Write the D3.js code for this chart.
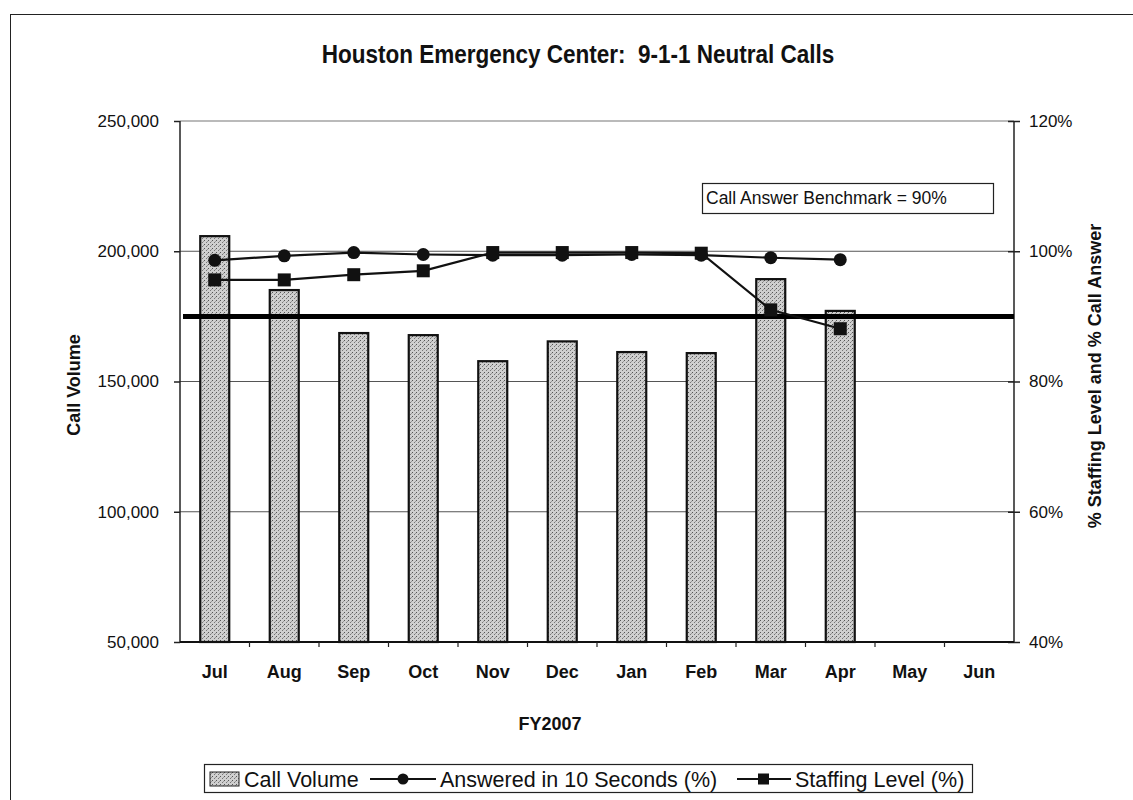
<!DOCTYPE html>
<html><head><meta charset="utf-8">
<script src="https://cdn.jsdelivr.net/npm/d3@7"></script>
<style>body{margin:0;background:#fff}svg{display:block;font-family:"Liberation Sans",Arial,sans-serif}</style>
</head><body>
<svg id="c" width="1133" height="800"></svg>
<script>
const months = ["Jul","Aug","Sep","Oct","Nov","Dec","Jan","Feb","Mar","Apr","May","Jun"];
const callVolume = [205800,185100,168600,167800,157800,165400,161300,160900,189300,177100];
const answered = [98.6,99.3,99.8,99.5,99.4,99.4,99.5,99.4,99.0,98.7];
const staffing = [95.6,95.6,96.4,97.0,99.8,99.8,99.8,99.7,91.0,88.1];
const benchmark = 90;
const leftTicks = [50000,100000,150000,200000,250000];
const rightTicks = [40,60,80,100,120];
const gridTicks = [100000,150000,200000];

const svg = d3.select("#c");
const L=180,R=1014,T=121,B=642;
const FONT = "Liberation Sans, Arial, sans-serif";
const x = d3.scaleBand().domain(months).range([L,R]).paddingInner(0.583).paddingOuter(0.2915);
const yL = d3.scaleLinear().domain([50000,250000]).range([B,T]);
const yR = d3.scaleLinear().domain([40,120]).range([B,T]);
const cx = m => x(m)+x.bandwidth()/2;

// outer border
svg.append("rect").attr("x",10.5).attr("y",14.5).attr("width",1140).attr("height",800)
  .attr("fill","none").attr("stroke","#222").attr("stroke-width",1);

// pattern for bars
const defs = svg.append("defs");
const pat = defs.append("pattern").attr("id","stip").attr("width",4).attr("height",4).attr("patternUnits","userSpaceOnUse");
pat.append("rect").attr("width",4).attr("height",4).attr("fill","#cfcfcf");
pat.append("rect").attr("x",0).attr("y",0).attr("width",1).attr("height",1).attr("fill","#555");
pat.append("rect").attr("x",2).attr("y",2).attr("width",1).attr("height",1).attr("fill","#777");
pat.append("rect").attr("x",3).attr("y",1).attr("width",1).attr("height",1).attr("fill","#999");

// title
svg.append("text").attr("transform","translate(578,63) scale(0.9,1)").attr("text-anchor","middle")
  .attr("font-size",25).attr("font-weight","bold").attr("fill","#111").style("white-space","pre")
  .text("Houston Emergency Center:  9-1-1 Neutral Calls");

// gridlines
svg.append("g").selectAll("line").data(gridTicks).join("line")
  .attr("x1",L).attr("x2",R).attr("y1",d=>yL(d)).attr("y2",d=>yL(d))
  .attr("stroke","#555").attr("stroke-width",1);
svg.append("line").attr("x1",L).attr("x2",R).attr("y1",T).attr("y2",T).attr("stroke","#777").attr("stroke-width",1.2);

// bars
svg.append("g").selectAll("rect").data(callVolume).join("rect")
  .attr("x",(d,i)=>x(months[i])).attr("width",x.bandwidth())
  .attr("y",d=>yL(d)).attr("height",d=>B-yL(d))
  .attr("fill","url(#stip)").attr("stroke","#111").attr("stroke-width",2.2);

// left axis
const gL = svg.append("g").attr("transform",`translate(${L},0)`)
  .call(d3.axisLeft(yL).tickValues(leftTicks).tickFormat(d3.format(",")).tickSize(6).tickPadding(15));
gL.selectAll("text").attr("font-size",17).attr("fill","#111").attr("font-family",FONT);
gL.selectAll("line,path").attr("stroke","#222").attr("stroke-width",1.5);
gL.select(".domain").attr("d",`M0,${T}V${B}`);

// right axis
const gR = svg.append("g").attr("transform",`translate(${R},0)`)
  .call(d3.axisRight(yR).tickValues(rightTicks).tickFormat(d=>d+"%").tickSize(6).tickPadding(9));
gR.selectAll("text").attr("font-size",17).attr("fill","#111").attr("font-family",FONT);
gR.selectAll("line,path").attr("stroke","#222").attr("stroke-width",1.5);
gR.select(".domain").attr("d",`M0,${T}V${B}`);
gR.selectAll(".tick line").attr("x1",-6);

// bottom axis
const gB = svg.append("g").attr("transform",`translate(0,${B})`)
  .call(d3.axisBottom(x).tickSize(0).tickPadding(23));
gB.select(".domain").attr("d",`M${L},0H${R}`).attr("stroke","#111").attr("stroke-width",2);
gB.selectAll("text").attr("font-size",18).attr("font-weight","bold").attr("fill","#111").attr("font-family",FONT);
const bounds = months.slice(1).map(m => x(m) - x.step()*x.paddingInner()/2);
svg.append("g").selectAll("line").data(bounds).join("line")
  .attr("x1",d=>d).attr("x2",d=>d).attr("y1",B).attr("y2",B+5).attr("stroke","#222").attr("stroke-width",1.2);

// benchmark line
svg.append("line").attr("x1",L+3).attr("x2",R).attr("y1",yR(benchmark)).attr("y2",yR(benchmark))
  .attr("stroke","#000").attr("stroke-width",5);

// lines + markers
const line = d3.line().x((d,i)=>cx(months[i])).y(d=>yR(d));
svg.append("path").datum(answered).attr("d",line).attr("fill","none").attr("stroke","#111").attr("stroke-width",2.2);
svg.append("path").datum(staffing).attr("d",line).attr("fill","none").attr("stroke","#111").attr("stroke-width",2.2);
svg.append("g").selectAll("circle").data(answered).join("circle")
  .attr("cx",(d,i)=>cx(months[i])).attr("cy",d=>yR(d)).attr("r",6.5).attr("fill","#111");
svg.append("g").selectAll("rect").data(staffing).join("rect")
  .attr("x",(d,i)=>cx(months[i])-6.5).attr("y",d=>yR(d)-6.5).attr("width",13).attr("height",13).attr("fill","#111");

// benchmark label box
svg.append("rect").attr("x",702.5).attr("y",183.5).attr("width",291).attr("height",30)
  .attr("fill","#fff").attr("stroke","#222").attr("stroke-width",1.2);
svg.append("text").attr("x",706).attr("y",204).attr("font-size",17.5).attr("fill","#111")
  .text("Call Answer Benchmark = 90%");

// axis titles
svg.append("text").attr("transform","translate(80,385) rotate(-90)").attr("text-anchor","middle")
  .attr("font-size",18).attr("font-weight","bold").attr("fill","#111").text("Call Volume");
svg.append("text").attr("transform","translate(1101,376) rotate(-90)").attr("text-anchor","middle")
  .attr("font-size",18).attr("font-weight","bold").attr("fill","#111").text("% Staffing Level and % Call Answer");
svg.append("text").attr("x",550).attr("y",730).attr("text-anchor","middle")
  .attr("font-size",18).attr("font-weight","bold").attr("fill","#111").text("FY2007");

// legend
const lg = svg.append("g");
lg.append("rect").attr("x",204.5).attr("y",764.5).attr("width",768).attr("height",28)
  .attr("fill","#fff").attr("stroke","#222").attr("stroke-width",1.2);
lg.append("rect").attr("x",210).attr("y",772).attr("width",29).attr("height",14)
  .attr("fill","url(#stip)").attr("stroke","#222").attr("stroke-width",1);
const legTxt = [["Call Volume",244],["Answered in 10 Seconds (%)",440],["Staffing Level (%)",795]];
lg.selectAll("text").data(legTxt).join("text").attr("x",d=>d[1]).attr("y",787)
  .attr("font-size",21.5).attr("fill","#111").text(d=>d[0]);
lg.append("line").attr("x1",370).attr("x2",436).attr("y1",779).attr("y2",779).attr("stroke","#111").attr("stroke-width",2);
lg.append("circle").attr("cx",403).attr("cy",779).attr("r",5.5).attr("fill","#111");
lg.append("line").attr("x1",737).attr("x2",791).attr("y1",779).attr("y2",779).attr("stroke","#111").attr("stroke-width",2);
lg.append("rect").attr("x",758).attr("y",773.5).attr("width",11).attr("height",11).attr("fill","#111");
</script>
</body></html>
